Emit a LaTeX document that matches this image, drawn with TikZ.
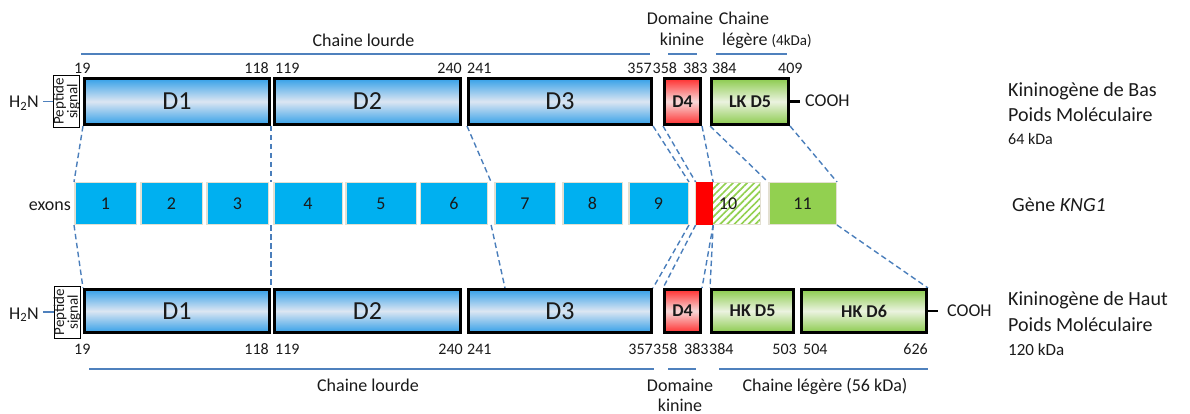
\documentclass[tikz,border=0pt]{standalone}
\usepackage{fontspec}
\setmainfont{Carlito}
\usetikzlibrary{calc,backgrounds,patterns.meta}
\definecolor{cblue}{HTML}{4F81BD}
\definecolor{dashblue}{HTML}{4A7EBB}
\definecolor{bEdge}{HTML}{35A0E8}
\definecolor{bMid}{HTML}{DCE6F2}
\definecolor{rEdge}{HTML}{FF3030}
\definecolor{rMid}{HTML}{F7D9D9}
\definecolor{gEdge}{HTML}{8CCB4E}
\definecolor{gMid}{HTML}{EBF3E0}
\definecolor{exCyan}{HTML}{00B0F0}
\definecolor{exGreen}{HTML}{92D050}
\definecolor{exBorder}{HTML}{E3E0D2}
\definecolor{txt}{HTML}{1A1A1A}
\begin{document}
\begin{tikzpicture}[x=1pt,y=-1pt,
  every node/.style={inner sep=0pt, text=txt},
  lab/.style={font=\fontsize{18}{20}\selectfont},
  num/.style={font=\fontsize{16}{18}\selectfont},
  big/.style={font=\fontsize{20}{22}\selectfont},
  dom/.style={draw=black, line width=3pt},
  bluedom/.style={dom, top color=bEdge, bottom color=bEdge, middle color=bMid, font=\fontsize{26}{28}\selectfont},
  reddom/.style={dom, top color=rEdge, bottom color=rEdge, middle color=rMid, font=\fontsize{18}{20}\selectfont\bfseries},
  greendom/.style={dom, top color=gEdge, bottom color=gEdge, middle color=gMid, font=\fontsize{18}{20}\selectfont\bfseries},
  topd/.style={minimum height=46pt},
  botd/.style={minimum height=43pt},
  pep/.style={draw=black, line width=1pt, minimum width=26pt, minimum height=52pt},
  peptxt/.style={rotate=90, align=center, font=\fontsize{15}{11.5}\selectfont},
  exon/.style={draw=exBorder, line width=1.5pt, fill=exCyan, minimum height=41.5pt, lab},
  conn/.style={draw=dashblue, line width=1.4pt, dash pattern=on 5.5pt off 3.5pt},
  chain/.style={draw=cblue, line width=1.3pt},
  endline/.style={draw=black, line width=2.5pt}
]
\useasboundingbox (0,0) rectangle (1190,414);

% ---------- top: LMW kininogen ----------
\node[pep] (pept) at (66.5,101.5) {};
\node[peptxt] (peptt) at (pept.center) {Peptide\\signal};
\node[bluedom, topd, minimum width=185pt] (d1t) at (177,101.5) {D1};
\node[bluedom, topd, minimum width=186pt] (d2t) at (367.5,101.5) {D2};
\node[bluedom, topd, minimum width=183pt] (d3t) at (560,101.5) {D3};
\node[reddom, topd, minimum width=36pt] (d4t) at (682.5,101.5) {D4};
\node[greendom, topd, minimum width=77pt] (d5t) at (750,101.5) {LK D5};

\node[lab, anchor=base east] (h2nt) at (39,108) {H\textsubscript{2}N};
\draw[chain] (h2nt.east |- pept.west) ++(4,0) -- (pept.west);
\node[lab, anchor=base west] (cooht) at (805,107) {COOH};
\draw[endline] (d5t.east) -- ++(10,0);

\node[num, anchor=base west] (t19) at (74,74) {19};
\node[num, anchor=base east] (t118) at (269,74) {118};
\node[num, anchor=base west] (t119) at (275,74) {119};
\node[num, anchor=base east] (t240) at (462,74) {240};
\node[num, anchor=base west] (t241) at (467,74) {241};
\node[num, anchor=base east] (t357) at (652,74) {357};
\node[num, anchor=base west] (t358) at (652.5,74) {358};
\node[num, anchor=base west] (t383) at (683,74) {383};
\node[num, anchor=base west] (t384) at (712,74) {384};
\node[num, anchor=base west] (t409) at (778,74) {409};

\node[lab, anchor=base] (tcl) at (363.5,46.5) {Chaine lourde};
\draw[chain] (81,54) -- (650,54);
\node[lab, anchor=base] (tdom) at (680,25) {Domaine};
\node[lab, anchor=base] (tkin) at (682,46) {kinine};
\draw[chain] (668,54) -- (697,54);
\node[lab, anchor=base] (tch) at (744,25) {Chaine};
\node[lab, anchor=base west] (tleg) at (722,46) {légère \fontsize{15}{17}\selectfont(4kDa)};
\draw[chain] (716,54) -- (787,54);

\node[big, anchor=base west] (lmw1) at (1008,96.5) {Kininogène de Bas};
\node[big, anchor=base west] (lmw2) at (1008,121.5) {Poids Moléculaire};
\node[num, anchor=base west] (lmw3) at (1008,145) {64 kDa};

% ---------- exons ----------
\node[lab, anchor=base east] (exl) at (71,210) {exons};
\node[exon, minimum width=61.5pt] (e1) at (105.5,203.5) {1};
\node[exon, minimum width=61.5pt] (e2) at (171.5,203.5) {2};
\node[exon, minimum width=61.5pt] (e3) at (237.5,203.5) {3};
\node[exon, minimum width=68.5pt] (e4) at (308,203.5) {4};
\node[exon, minimum width=70.5pt] (e5) at (381,203.5) {5};
\node[exon, minimum width=67pt] (e6) at (454,203.5) {6};
\node[exon, minimum width=60.5pt] (e7) at (525,203.5) {7};
\node[exon, minimum width=59.5pt] (e8) at (592.5,203.5) {8};
\node[exon, minimum width=59.5pt] (e9) at (658.5,203.5) {9};
\node[exon, fill=none, pattern={Lines[angle=45,distance=5pt,line width=1.7pt]}, pattern color=exGreen, minimum width=64.5pt] (e10) at (728,203.5) {};
\node[fill=red, minimum width=17pt, minimum height=42pt] (ered) at (704.5,203.5) {};
\node[lab] (e10t) at (728,203.5) {10};
\node[exon, fill=exGreen, minimum width=67.5pt] (e11) at (802.5,203.5) {11};

\node[big, anchor=base west] (gene) at (1012,211) {Gène \textit{KNG1}};

% ---------- bottom: HMW kininogen ----------
\node[pep] (pepb) at (67,312) {};
\node[peptxt] (pepbt) at (pepb.center) {Peptide\\signal};
\node[bluedom, botd, minimum width=185pt] (d1b) at (177,311) {D1};
\node[bluedom, botd, minimum width=186pt] (d2b) at (367.5,311) {D2};
\node[bluedom, botd, minimum width=183pt] (d3b) at (560,311) {D3};
\node[reddom, botd, minimum width=36pt] (d4b) at (682.5,311) {D4};
\node[greendom, botd, minimum width=82pt] (d5b) at (752.5,311) {HK D5};
\node[greendom, botd, minimum width=125pt] (d6b) at (864,311) {HK D6};

\node[lab, anchor=base east] (h2nb) at (39,319) {H\textsubscript{2}N};
\draw[chain] (h2nb.east |- pepb.west) ++(4,0) -- (pepb.west);
\node[lab, anchor=base west] (coohb) at (947,316) {COOH};
\draw[endline] (d6b.east) -- ++(10,0);

\node[num, anchor=base west] (b19) at (74,354) {19};
\node[num, anchor=base east] (b118) at (269,354) {118};
\node[num, anchor=base west] (b119) at (275,354) {119};
\node[num, anchor=base east] (b240) at (463,354) {240};
\node[num, anchor=base west] (b241) at (467,354) {241};
\node[num, anchor=base east] (b357) at (653,354) {357};
\node[num, anchor=base west] (b358) at (653,354) {358};
\node[num, anchor=base west] (b383) at (684,354) {383};
\node[num, anchor=base west] (b384) at (709,354) {384};
\node[num, anchor=base east] (b503) at (797,354) {503};
\node[num, anchor=base west] (b504) at (803,354) {504};
\node[num, anchor=base east] (b626) at (928,354) {626};

\draw[chain] (89,369) -- (654,369);
\node[lab, anchor=base] (bcl) at (368,391) {Chaine lourde};
\draw[chain] (668,369) -- (696,369);
\node[lab, anchor=base] (bdom) at (680,391) {Domaine};
\node[lab, anchor=base] (bkin) at (680,411) {kinine};
\draw[chain] (719,369) -- (928,369);
\node[lab, anchor=base] (bleg) at (825,391) {Chaine légère (56 kDa)};

\node[big, anchor=base west] (hmw1) at (1008,305) {Kininogène de Haut};
\node[big, anchor=base west] (hmw2) at (1008,331) {Poids Moléculaire};
\node[num, anchor=base west, font=\fontsize{17}{19}\selectfont] (hmw3) at (1008,355) {120 kDa};

% ---------- dashed connectors ----------
\begin{scope}[on background layer]
\coordinate (g34t) at ($(e3.north east)!0.5!(e4.north west)$);
\coordinate (g34b) at ($(e3.south east)!0.5!(e4.south west)$);
\coordinate (g67t) at ($(e6.north east)!0.5!(e7.north west)$);
\coordinate (g67b) at ($(e6.south east)!0.5!(e7.south west)$);
\coordinate (d3mid) at ($(d3b.north west)+(38,0)$);
\draw[conn] (d1t.south west) -- (e1.north west);
\draw[conn] (d1t.south east) -- (g34t);
\draw[conn] (d3t.south west) -- (g67t);
\draw[conn] (d3t.south east) -- (e9.north east);
\draw[conn] (d4t.south west) -- (ered.north west);
\draw[conn] (d4t.south east) -- (ered.north east);
\draw[conn] (d5t.south west) -- (e11.north west);
\draw[conn] (d5t.south east) -- (e11.north east);
\draw[conn] (e1.south west) -- (d1b.north west);
\draw[conn] (g34b) -- (d1b.north east);
\draw[conn] (g67b) -- (d3mid);
\draw[conn] (e9.south east) -- (d3b.north east);
\draw[conn] (ered.south west) -- (d4b.north west);
\draw[conn] (ered.south east) -- (d4b.north east);
\draw[conn] (ered.south east) -- (d5b.north west);
\draw[conn] (e11.south east) -- (d6b.north east);
\end{scope}
\end{tikzpicture}
\end{document}
